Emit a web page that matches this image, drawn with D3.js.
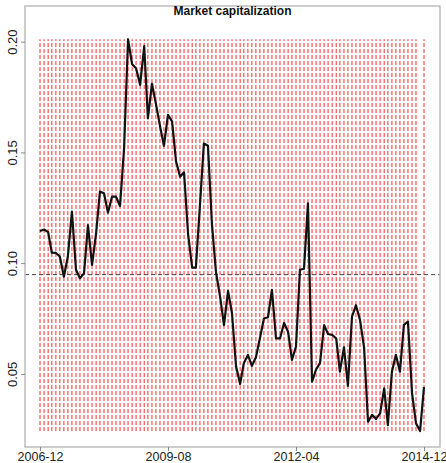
<!DOCTYPE html>
<html>
<head>
<meta charset="utf-8">
<script src="https://cdn.jsdelivr.net/npm/d3@7"></script>
<style>
  body { margin: 0; background: #fff; }
  text { font-family: "Liberation Sans", Arial, sans-serif; }
</style>
</head>
<body>
<svg width="446" height="463"></svg>
<script>
// monthly market cap share, 2006-12 .. 2014-12
var startMonth = "2006-12";
var capValues = [
  0.1145, 0.1152, 0.1140, 0.1047, 0.1046, 0.1030, 0.0939, 0.1030, 0.1233, 0.0970,
  0.0932, 0.0954, 0.1172, 0.0992, 0.1135, 0.1323, 0.1316, 0.1228, 0.1300, 0.1300,
  0.1258, 0.1520, 0.2011, 0.1898, 0.1880, 0.1805, 0.1980, 0.1654, 0.1810, 0.1720,
  0.1620, 0.1530, 0.1670, 0.1640, 0.1460, 0.1390, 0.1410, 0.1130, 0.0980, 0.0980,
  0.1260, 0.1540, 0.1530, 0.1180, 0.0960, 0.0850, 0.0720, 0.0875, 0.0774, 0.0533,
  0.0455, 0.0548, 0.0586, 0.0536, 0.0575, 0.0660, 0.0750, 0.0756, 0.0880, 0.0660,
  0.0660, 0.0730, 0.0690, 0.0563, 0.0623, 0.0970, 0.0975, 0.1270, 0.0465, 0.0520,
  0.0550, 0.0720, 0.0680, 0.0676, 0.0660, 0.0510, 0.0620, 0.0446, 0.0758, 0.0810,
  0.0744, 0.0620, 0.0284, 0.0315, 0.0297, 0.0322, 0.0435, 0.0269, 0.0510, 0.0586,
  0.0510, 0.0721, 0.0736, 0.0413, 0.0277, 0.0242, 0.0440
];
// months without a marker line
var skipMarkers = ["2014-11"];
var xTickLabels = ["2006-12", "2009-08", "2012-04", "2014-12"];
var yTickValues = [0.05, 0.10, 0.15, 0.20];
var yLimits = [0.017, 0.2161];

var svg = d3.select("svg");
var parse = d3.timeParse("%Y-%m"),
    fmt = d3.timeFormat("%Y-%m");

var t0 = parse(startMonth);
var data = capValues.map(function(v, i) {
  return {date: d3.timeMonth.offset(t0, i), value: v};
});

var box = {left: 25, right: 440, top: 6, bottom: 447};

var x = d3.scaleTime()
  .domain([parse(xTickLabels[0]), parse(xTickLabels[xTickLabels.length - 1])])
  .range([40, 424]);

var y = d3.scaleLinear()
  .domain(yLimits)
  .range([box.bottom, box.top]);

var ext = d3.extent(capValues);

// red dashed markers for each month
svg.append("g")
  .selectAll("line")
  .data(data.filter(function(d) { return skipMarkers.indexOf(fmt(d.date)) < 0; }))
  .enter().append("line")
  .attr("x1", function(d) { return x(d.date); })
  .attr("x2", function(d) { return x(d.date); })
  .attr("y1", y(ext[0]))
  .attr("y2", y(ext[1]))
  .attr("stroke", "rgba(255,0,0,0.85)")
  .attr("stroke-width", 1)
  .attr("stroke-dasharray", "4,2");

// mean level
var avg = d3.mean(capValues);
svg.append("line")
  .attr("x1", box.left).attr("x2", box.right)
  .attr("y1", y(avg)).attr("y2", y(avg))
  .attr("stroke", "#444")
  .attr("stroke-width", 1)
  .attr("stroke-dasharray", "4,3");

var line = d3.line()
  .x(function(d) { return x(d.date); })
  .y(function(d) { return y(d.value); });

svg.append("path")
  .datum(data)
  .attr("d", line)
  .attr("fill", "none")
  .attr("stroke", "#111")
  .attr("stroke-width", 2.2)
  .attr("stroke-linejoin", "round");

// frame
svg.append("rect")
  .attr("x", box.left).attr("y", box.top)
  .attr("width", box.right - box.left)
  .attr("height", box.bottom - box.top)
  .attr("fill", "none")
  .attr("stroke", "#bdbdbd")
  .attr("stroke-width", 1.5);

// axes
var xAxis = d3.axisBottom(x)
  .tickValues(xTickLabels.map(parse))
  .tickFormat(fmt)
  .tickSize(4);

var gx = svg.append("g")
  .attr("transform", "translate(0," + box.bottom + ")")
  .call(xAxis);
gx.select(".domain").remove();
gx.selectAll(".tick line").attr("stroke", "#888");
gx.selectAll(".tick text")
  .attr("font-size", 12.5)
  .attr("fill", "#222")
  .attr("dy", "0.71em")
  .attr("y", 5);

var yAxis = d3.axisLeft(y)
  .tickValues(yTickValues)
  .tickFormat(d3.format(".2f"))
  .tickSize(4);

var gy = svg.append("g")
  .attr("transform", "translate(" + box.left + ",0)")
  .call(yAxis);
gy.select(".domain").remove();
gy.selectAll(".tick line").attr("stroke", "#888");
gy.selectAll(".tick text")
  .attr("font-size", 13)
  .attr("fill", "#222")
  .attr("x", null).attr("dy", null)
  .attr("text-anchor", "middle")
  .attr("transform", "translate(-8,0) rotate(-90)");

svg.append("text")
  .attr("x", (box.left + box.right) / 2)
  .attr("y", 15)
  .attr("text-anchor", "middle")
  .attr("font-size", 12)
  .attr("font-weight", "bold")
  .attr("fill", "#111")
  .text("Market capitalization");
</script>
</body>
</html>
